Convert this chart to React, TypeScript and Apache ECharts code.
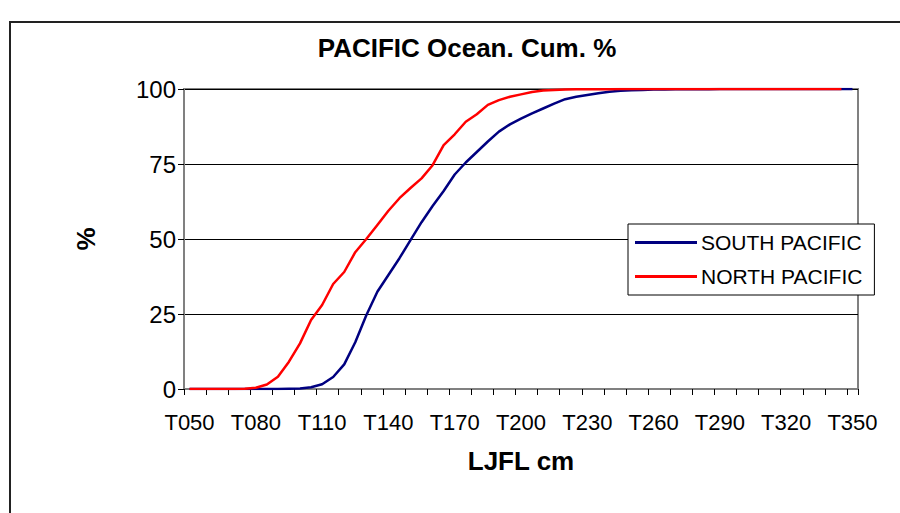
import React, { useEffect, useRef } from "react";
import * as echarts from "echarts";

const categories: string[] = [
  "T050","T055","T060","T065","T070","T075","T080","T085","T090","T095",
  "T100","T105","T110","T115","T120","T125","T130","T135","T140","T145",
  "T150","T155","T160","T165","T170","T175","T180","T185","T190","T195",
  "T200","T205","T210","T215","T220","T225","T230","T235","T240","T245",
  "T250","T255","T260","T265","T270","T275","T280","T285","T290","T295",
  "T300","T305","T310","T315","T320","T325","T330","T335","T340","T345",
  "T350",
];

const southPacific: number[] = [
  0, 0, 0, 0, 0, 0, 0, 0, 0, 0.1,
  0.2, 0.6, 1.6, 4, 8.2, 15.6, 24.6, 32.4, 38, 43.6,
  49.6, 55.6, 61, 66, 71.5, 75.5, 79, 82.5, 85.8, 88.2,
  90.1, 91.9, 93.5, 95.1, 96.6, 97.4, 98, 98.6, 99.1, 99.4,
  99.6, 99.7, 99.8, 99.85, 99.9, 99.9, 99.95, 99.95, 99.97, 100,
  100, 100, 100, 100, 100, 100, 100, 100, 100, 100,
  100,
];

const northPacific: (number | null)[] = [
  0, 0, 0, 0, 0, 0.1, 0.4, 1.5, 4.1, 9.1,
  15.2, 23, 28, 35, 39, 45.6, 50, 54.7, 59.4, 63.6,
  67, 70.2, 74.6, 81.3, 84.9, 89.1, 91.6, 94.7, 96.3, 97.4,
  98.2, 99, 99.5, 99.7, 99.8, 99.9, 99.9, 99.95, 99.95, 100,
  100, 100, 100, 100, 100, 100, 100, 100, 100, 100,
  100, 100, 100, 100, 100, 100, 100, 100, 100, 100,
  null,
];

const yTicks = { min: 0, max: 100, interval: 25 };

const FONT = "Liberation Sans, Arial, sans-serif";

export default function App() {
  const ref = useRef<HTMLDivElement>(null);

  useEffect(() => {
    document.body.style.margin = "0";
    if (!ref.current) return;
    const chart = echarts.init(ref.current, undefined, { renderer: "svg" });
    chart.setOption({
      animation: false,
      backgroundColor: "#ffffff",
      title: {
        text: "PACIFIC Ocean. Cum. %",
        left: 462,
        top: 30,
        textAlign: "center",
        textStyle: { fontFamily: FONT, fontSize: 26, fontWeight: "bold", color: "#000" },
      },
      graphic: [
        {
          type: "rect",
          shape: { x: 10, y: 22, width: 1000, height: 1000 },
          style: { fill: "none", stroke: "#222", lineWidth: 2 },
          silent: true,
        },
      ],
      legend: {
        orient: "vertical",
        left: 628,
        top: 224,
        padding: [8, 12, 8, 7],
        itemGap: 13,
        itemWidth: 62,
        itemHeight: 3,
        icon: "rect",
        backgroundColor: "#fff",
        borderColor: "#000",
        borderWidth: 1,
        textStyle: { fontFamily: FONT, fontSize: 21, color: "#000", lineHeight: 20, padding: [0, 0, 0, -1] },
        data: ["SOUTH PACIFIC", "NORTH PACIFIC"],
      },
      grid: {
        left: 184,
        right: 42,
        top: 89,
        bottom: 124,
        show: true,
        borderColor: "#808080",
        borderWidth: 2,
        containLabel: false,
      },
      xAxis: {
        type: "category",
        data: categories,
        boundaryGap: true,
        name: "LJFL cm",
        nameLocation: "middle",
        nameGap: 59,
        nameTextStyle: { fontFamily: FONT, fontSize: 26, fontWeight: "bold", color: "#000" },
        axisLine: { show: true, lineStyle: { color: "#808080", width: 2 } },
        axisTick: { show: true, interval: 1, length: 6, lineStyle: { color: "#000", width: 1 } },
        axisLabel: {
          interval: 5,
          margin: 22,
          fontFamily: FONT,
          fontSize: 22,
          color: "#000",
        },
        splitLine: { show: false },
      },
      yAxis: {
        type: "value",
        min: yTicks.min,
        max: yTicks.max,
        interval: yTicks.interval,
        name: "%",
        nameLocation: "middle",
        nameGap: 85,
        nameRotate: 90,
        nameTextStyle: { fontFamily: FONT, fontSize: 26, fontWeight: "bold", color: "#000" },
        axisLine: { show: true, lineStyle: { color: "#808080", width: 2 } },
        axisTick: { show: true, length: 6, lineStyle: { color: "#000", width: 1 } },
        axisLabel: { margin: 8, fontFamily: FONT, fontSize: 24, color: "#000" },
        splitLine: { show: true, lineStyle: { color: "#000", width: 1 } },
      },
      series: [
        {
          name: "SOUTH PACIFIC",
          type: "line",
          data: southPacific,
          showSymbol: false,
          symbol: "none",
          lineStyle: { color: "#000080", width: 2.5 },
          itemStyle: { color: "#000080" },
        },
        {
          name: "NORTH PACIFIC",
          type: "line",
          data: northPacific,
          showSymbol: false,
          symbol: "none",
          connectNulls: false,
          lineStyle: { color: "#ff0000", width: 2.5 },
          itemStyle: { color: "#ff0000" },
        },
      ],
    });
    return () => chart.dispose();
  }, []);

  return <div ref={ref} style={{ width: 900, height: 513 }} />;
}
